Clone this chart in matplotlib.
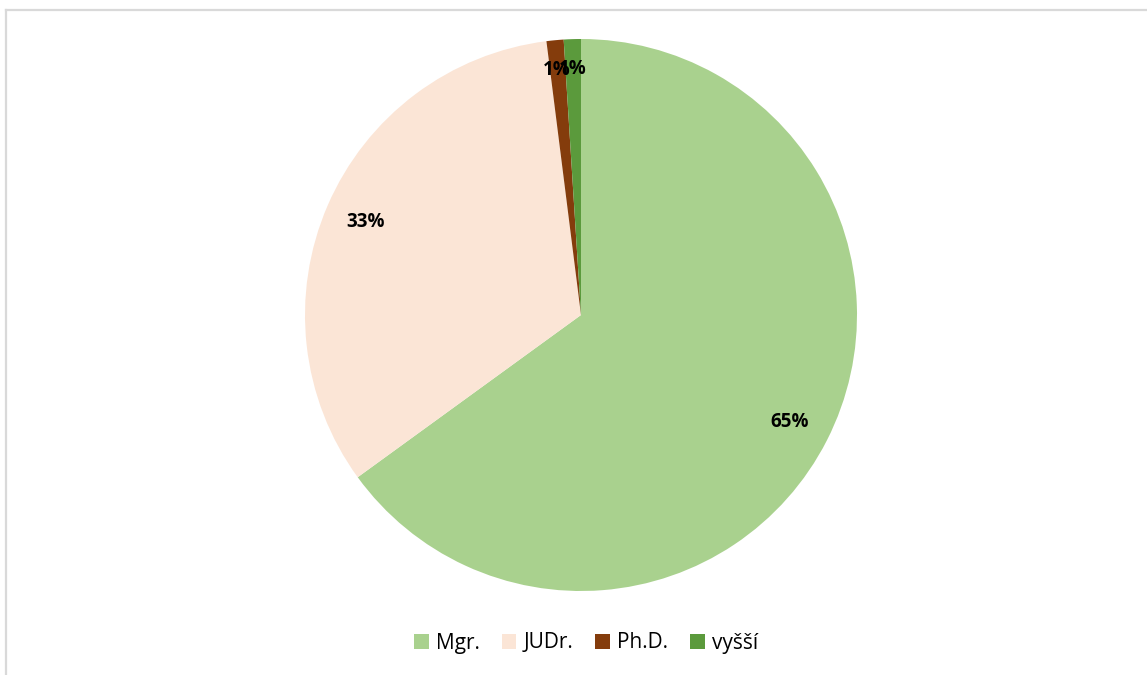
import matplotlib
matplotlib.use("Agg")
import matplotlib.pyplot as plt
from matplotlib.lines import Line2D

# degree shares
labels = ["Mgr.", "JUDr.", "Ph.D.", "vyšší"]
shares = [65, 33, 1, 1]
colors = ["#A9D18E", "#FBE5D6", "#843C0C", "#5B9A3C"]

plt.rcParams["font.family"] = ["Open Sans", "DejaVu Sans"]

W, H = 1147, 675
fig = plt.figure(figsize=(W / 100, H / 100), dpi=100)

# chart border (top and left edges visible)
fig.add_artist(Line2D([6 / W, 1], [1 - 9.5 / H, 1 - 9.5 / H], color="#D9D9D9", lw=1.6))
fig.add_artist(Line2D([6 / W, 6 / W], [0, 1 - 9.5 / H], color="#D9D9D9", lw=1.6))

cx, cy, r = 581, 315, 276
ax = fig.add_axes([(cx - r) / W, (H - cy - r) / H, 2 * r / W, 2 * r / H])

wedges, texts, autotexts = ax.pie(
    shares, colors=colors, startangle=90, counterclock=False,
    autopct=lambda p: f"{p:.0f}%", pctdistance=0.85, radius=1,
    textprops=dict(fontsize=13.5, fontweight="bold", color="black"),
)
# nudge the two thin slices' labels toward the rim
for t in autotexts[2:]:
    x, y = t.get_position()
    t.set_position((x * 1.08, y * 1.05))
ax.set_xlim(-1, 1)
ax.set_ylim(-1, 1)
ax.set_aspect("equal")

fig.legend(wedges, labels, loc="center", bbox_to_anchor=(586 / W, 1 - 643 / H),
           ncol=4, frameon=False, fontsize=15, handlelength=0.7, handleheight=0.7,
           handletextpad=0.35, columnspacing=1.05)

fig.savefig("out.png", dpi=100, facecolor="white")
